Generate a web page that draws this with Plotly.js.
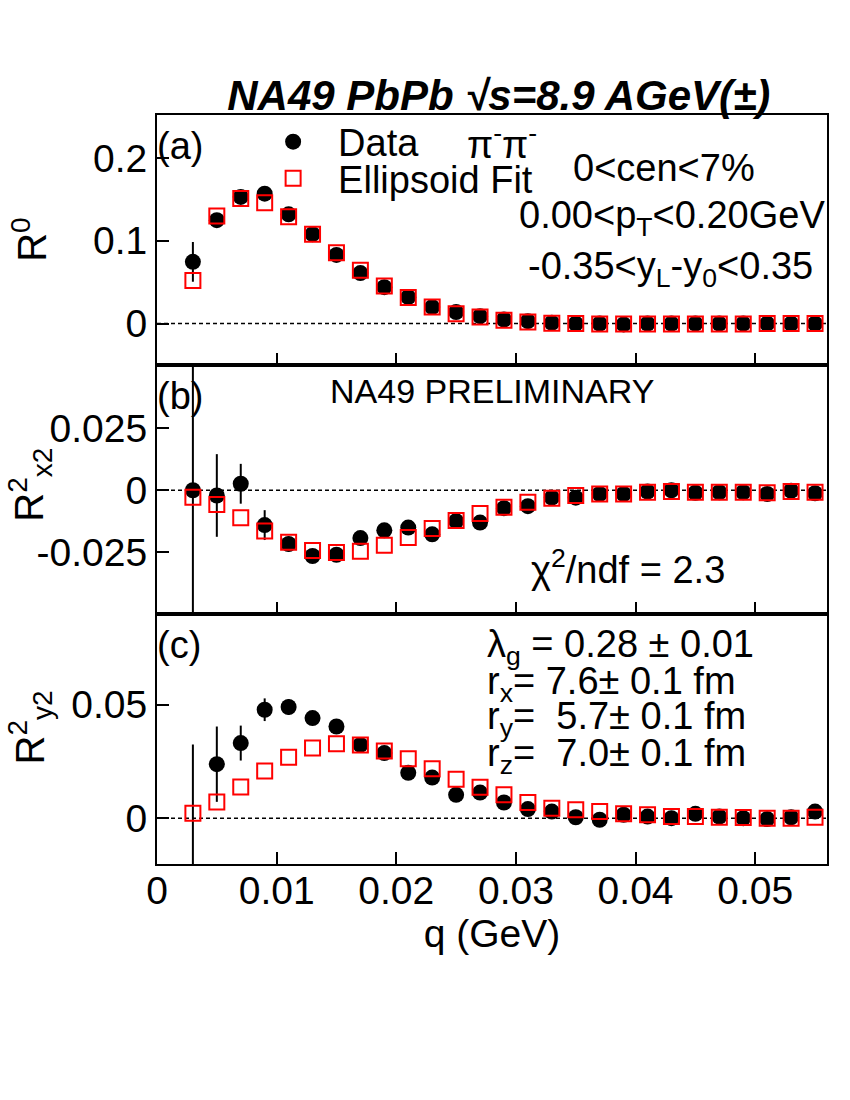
<!DOCTYPE html>
<html>
<head>
<meta charset="utf-8">
<script src="https://cdn.plot.ly/plotly-3.0.1.min.js"></script>
<style>
  html, body { margin: 0; padding: 0; background: #fff; }
  #chart { width: 850px; height: 1100px; }
</style>
</head>
<body>
<div id="chart"></div>
<script>
// momentum difference bins (GeV)
let q = [0.003, 0.005, 0.007, 0.009, 0.011, 0.013, 0.015, 0.017, 0.019, 0.021, 0.023, 0.025, 0.027, 0.029,
  0.031, 0.033, 0.035, 0.037, 0.039, 0.041, 0.043, 0.045, 0.047, 0.049, 0.051, 0.053, 0.055];

// (a) R^0
let r0Data = [0.0746, 0.125, 0.153, 0.157, 0.132, 0.108, 0.083, 0.061, 0.044, 0.032, 0.020, 0.014, 0.009, 0.005,
  0.003, 0.001, 0.000, 0.000, -0.001, 0.000, 0.000, 0.000, 0.000, 0.000, 0.000, 0.000, 0.000];
let r0Err = [0.024, 0.004, 0.003, 0.003, 0.003, 0.002, 0.002, 0.002, 0.002, 0.002, 0.002, 0.001, 0.001, 0.001,
  0.001, 0.001, 0.001, 0.001, 0.001, 0.001, 0.001, 0.001, 0.001, 0.001, 0.001, 0.001, 0.001];
let r0Fit = [0.052, 0.130, 0.151, 0.146, 0.129, 0.108, 0.0855, 0.0645, 0.0455, 0.0315, 0.020, 0.012, 0.008, 0.004,
  0.002, 0.0005, 0.000, -0.0005, -0.0005, -0.0005, -0.0005, -0.0005, -0.0005, -0.0005, 0.000, 0.000, 0.000];

// (b) R^2_x2
let rx2Data = [0.000, -0.0021, 0.0026, -0.0140, -0.0216, -0.0264, -0.0259, -0.0192, -0.0161, -0.0150, -0.0177, -0.0124,
  -0.0130, -0.0072, -0.0064, -0.0030, -0.0030, -0.0015, -0.0015, -0.0005, 0.000, -0.0010, -0.0008, -0.0008, -0.0015,
  -0.0002, -0.0012];
let rx2Err = [0.06, 0.0166, 0.008, 0.006, 0.003, 0.002, 0.002, 0.0015, 0.0015, 0.0015, 0.0015, 0.0015, 0.0015, 0.0015,
  0.0015, 0.0015, 0.0015, 0.0015, 0.0015, 0.0015, 0.0015, 0.0015, 0.0015, 0.0015, 0.0015, 0.0015, 0.0015];
let rx2Fit = [-0.0028, -0.0057, -0.0110, -0.0164, -0.0209, -0.0242, -0.0250, -0.0245, -0.0221, -0.0190, -0.0154, -0.0121,
  -0.0093, -0.0068, -0.0048, -0.0032, -0.0021, -0.0015, -0.0015, -0.0008, -0.0005, -0.0008, -0.0008, -0.0008, -0.0010,
  -0.0005, -0.0008];

// (c) R^2_y2
let ry2Data = [-0.030, 0.0238, 0.0331, 0.0478, 0.0490, 0.0441, 0.0404, 0.0323, 0.0287, 0.0200, 0.0179, 0.0103, 0.0113,
  0.0069, 0.0040, 0.0029, 0.0004, -0.0007, 0.0015, 0.0007, 0.000, 0.0019, 0.0007, 0.000, -0.0004, 0.0004, 0.0029];
let ry2Err = [0.0625, 0.0166, 0.0077, 0.005, 0.0035, 0.002, 0.002, 0.0015, 0.0015, 0.0015, 0.0015, 0.0015, 0.0015, 0.0015,
  0.0015, 0.0015, 0.0015, 0.0015, 0.0015, 0.0015, 0.0015, 0.0015, 0.0015, 0.0015, 0.0015, 0.0015, 0.0015];
let ry2Fit = [0.0022, 0.0071, 0.0137, 0.0208, 0.0269, 0.0309, 0.0328, 0.0322, 0.0296, 0.0262, 0.0218, 0.0172, 0.0136,
  0.0103, 0.0069, 0.0044, 0.0037, 0.0029, 0.0019, 0.0015, 0.0007, 0.0007, 0.0004, 0.0003, 0.000, 0.000, 0.0004];

// tick labels
let xTicks = [0, 0.01, 0.02, 0.03, 0.04, 0.05];
let xTickText = ['0', '0.01', '0.02', '0.03', '0.04', '0.05'];
let r0Ticks = [0, 0.1, 0.2];
let r0TickText = ['0', '0.1', '0.2'];
let rx2Ticks = [-0.025, 0, 0.025];
let rx2TickText = ['-0.025', '0', '0.025'];
let ry2Ticks = [0, 0.05];
let ry2TickText = ['0', '0.05'];

const FONT = 'Liberation Sans, Arial, Helvetica, sans-serif';
const RED = 'rgb(255,0,0)';

function dataTrace(y, err, xa, ya, show) {
  return {
    x: q, y: y, xaxis: xa, yaxis: ya,
    type: 'scatter', mode: 'markers', name: 'Data',
    marker: {symbol: 'circle', size: 16, color: 'black'},
    error_y: {type: 'data', array: err, visible: true, color: 'black', thickness: 2, width: 0},
    showlegend: show, legend: 'legend',
  };
}

function fitTrace(y, xa, ya, show) {
  return {
    x: q, y: y, xaxis: xa, yaxis: ya,
    type: 'scatter', mode: 'markers', name: 'Ellipsoid Fit',
    marker: {symbol: 'square-open', size: 15, color: RED, line: {color: RED, width: 2}},
    showlegend: show, legend: 'legend2',
  };
}

let data = [
  dataTrace(r0Data, r0Err, 'x', 'y', true),
  fitTrace(r0Fit, 'x', 'y', true),
  dataTrace(rx2Data, rx2Err, 'x2', 'y2', false),
  fitTrace(rx2Fit, 'x2', 'y2', false),
  dataTrace(ry2Data, ry2Err, 'x3', 'y3', false),
  fitTrace(ry2Fit, 'x3', 'y3', false),
];

let xBase = {
  range: [0, 0.056], tickvals: xTicks, ticktext: xTickText,
  ticks: 'inside', ticklen: 12, tickwidth: 2, tickcolor: 'black',
  showline: true, linewidth: 2, linecolor: 'black', mirror: true,
  showgrid: false, zeroline: false,
  tickfont: {family: FONT, size: 39, color: 'black'},
};

function yAxis(range, domain, anchor, vals, text) {
  return {
    range: range, domain: domain, anchor: anchor,
    tickvals: vals, ticktext: text,
    ticks: 'inside', ticklen: 12, tickwidth: 2, tickcolor: 'black',
    showline: true, linewidth: 2, linecolor: 'black', mirror: true,
    showgrid: false, zeroline: false,
    tickfont: {family: FONT, size: 39, color: 'black'},
  };
}

function zeroLine(yref) {
  return {type: 'line', xref: 'paper', x0: 0, x1: 1, yref: yref, y0: 0, y1: 0,
    line: {color: 'black', width: 1.5, dash: '4px,3px'}, layer: 'below'};
}

function note(text, x, y, anchor, size) {
  return {text: text, xref: 'paper', yref: 'paper', x: x, y: y, xanchor: anchor, yanchor: 'middle',
    showarrow: false, font: {family: FONT, size: size || 38, color: 'black'}};
}

function yTitle(text, y) {
  return {text: text, xref: 'paper', yref: 'paper', x: -0.19, y: y, xanchor: 'center', yanchor: 'middle',
    textangle: -90, showarrow: false, font: {family: FONT, size: 40, color: 'black'}};
}

let layout = {
  width: 850, height: 1100,
  margin: {l: 157, r: 23, t: 115, b: 236},
  paper_bgcolor: 'white', plot_bgcolor: 'white',
  title: {
    text: '<b><i>NA49 PbPb √s=8.9 AGeV(±)</i></b>',
    font: {family: FONT, size: 42, color: 'black'},
    xref: 'paper', x: 0.51, xanchor: 'center',
    yref: 'container', y: 0.9136, yanchor: 'middle',
  },
  xaxis: Object.assign({}, xBase, {anchor: 'y', showticklabels: false}),
  xaxis2: Object.assign({}, xBase, {anchor: 'y2', showticklabels: false}),
  xaxis3: Object.assign({}, xBase, {
    anchor: 'y3', ticklabelstandoff: -9,
    title: {text: 'q (GeV)', font: {family: FONT, size: 39, color: 'black'}, standoff: 0},
  }),
  yaxis: yAxis([-0.05, 0.252], [0.6662, 1], 'x', r0Ticks, r0TickText),
  yaxis2: yAxis([-0.0497, 0.0503], [0.3338, 0.6662], 'x2', rx2Ticks, rx2TickText),
  yaxis3: yAxis([-0.0202, 0.09], [0, 0.3338], 'x3', ry2Ticks, ry2TickText),
  legend: {
    x: 0.136, y: 0.964, xanchor: 'left', yanchor: 'middle',
    bgcolor: 'rgba(0,0,0,0)', itemwidth: 80,
    font: {family: FONT, size: 38, color: 'black'},
  },
  legend2: {
    x: 0.136, y: 0.915, xanchor: 'left', yanchor: 'middle',
    bgcolor: 'rgba(0,0,0,0)', itemwidth: 80,
    font: {family: FONT, size: 38, color: 'black'},
  },
  shapes: [zeroLine('y'), zeroLine('y2'), zeroLine('y3')],
  annotations: [
    note('(a)', -0.003, 0.9586, 'left'),
    note('(b)', -0.003, 0.6248, 'left'),
    note('(c)', -0.003, 0.2924, 'left'),
    note('π<sup>-</sup>π<sup>-</sup>', 0.46, 0.964, 'left'),
    note('0<cen<7%', 0.618, 0.929, 'left'),
    note('0.00<p<sub>T</sub><0.20GeV', 1.0, 0.862, 'right'),
    note('-0.35<y<sub>L</sub>-y<sub>0</sub><0.35', 0.982, 0.794, 'right'),
    note('NA49 PRELIMINARY', 0.5, 0.6315, 'center', 34),
    note('χ<sup>2</sup>/ndf = 2.3', 0.555, 0.397, 'left'),
    note('λ<sub>g</sub> = 0.28 ± 0.01', 0.49, 0.29, 'left'),
    note('r<sub>x</sub>= 7.6± 0.1 fm', 0.49, 0.24, 'left'),
    note('r<sub>y</sub>=  5.7± 0.1 fm', 0.49, 0.193, 'left'),
    note('r<sub>z</sub>=  7.0± 0.1 fm', 0.49, 0.144, 'left'),
    yTitle('R<sup>0</sup>', 0.833),
    yTitle('R<sup>2</sup><sub>x2</sub>', 0.506),
    yTitle('R<sup>2</sup><sub>y2</sub>', 0.182),
  ],
};

Plotly.newPlot('chart', data, layout, {staticPlot: true});
</script>
</body>
</html>
